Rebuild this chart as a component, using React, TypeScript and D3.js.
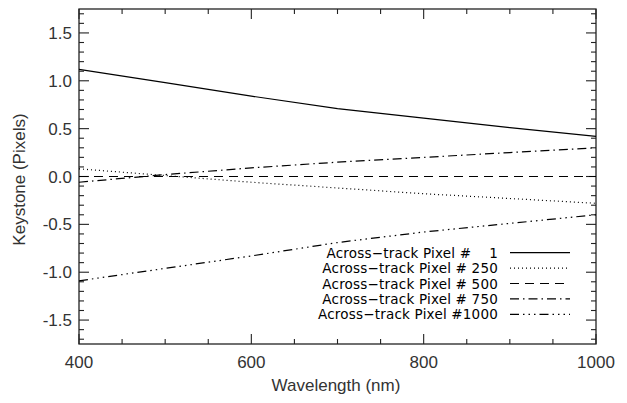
import React from "react";
import * as d3 from "d3";

const wavelengths = [400, 500, 600, 700, 800, 900, 1000];
const pixel1 = [1.12, 0.98, 0.84, 0.71, 0.61, 0.51, 0.42];
const pixel250 = [0.08, 0.01, -0.06, -0.12, -0.18, -0.23, -0.28];
const pixel500 = [0.0, 0.0, 0.0, 0.0, 0.0, 0.0, 0.0];
const pixel750 = [-0.06, 0.02, 0.09, 0.15, 0.2, 0.25, 0.3];
const pixel1000 = [-1.09, -0.96, -0.83, -0.69, -0.58, -0.49, -0.4];

const legendLabels = [
  "Across\u2212track Pixel #    1",
  "Across\u2212track Pixel # 250",
  "Across\u2212track Pixel # 500",
  "Across\u2212track Pixel # 750",
  "Across\u2212track Pixel #1000",
];
const dashes = ["none", "1,3", "9,6", "9,4,1.5,4", "9,4,1.5,4,1.5,4,1.5,4"];
const xTicks = [400, 600, 800, 1000];
const yTicks = [-1.5, -1.0, -0.5, 0.0, 0.5, 1.0, 1.5];

export default function App() {
  const W = 627, H = 403;
  const L = 79, R = 596, T = 9, B = 344;
  const x = d3.scaleLinear().domain([400, 1000]).range([L, R]);
  const y = d3.scaleLinear().domain([-1.75, 1.75]).range([B, T]);
  const series = [pixel1, pixel250, pixel500, pixel750, pixel1000];
  const line = d3.line<number>().x((_, i) => x(wavelengths[i])).y((d) => y(d));

  const xMinor = d3.range(400, 1000.1, 50);
  const yMinor = d3.range(-17, 18).map((v) => v / 10);
  const axisColor = "#222";
  const font = "'Liberation Sans', Arial, Helvetica, sans-serif";

  return (
    <svg width={W} height={H} style={{ position: "absolute", left: 0, top: 0, background: "#fff" }}>
      <rect x={0} y={0} width={W} height={H} fill="#fff" />
      <rect x={L} y={T} width={R - L} height={B - T} fill="none" stroke={axisColor} strokeWidth={1.3} />
      {xMinor.map((v) => {
        const major = xTicks.includes(v);
        const len = major ? 10 : 5;
        return (
          <g key={"xt" + v}>
            <line x1={x(v)} x2={x(v)} y1={B} y2={B - len} stroke={axisColor} strokeWidth={1.1} />
            <line x1={x(v)} x2={x(v)} y1={T} y2={T + len} stroke={axisColor} strokeWidth={1.1} />
          </g>
        );
      })}
      {yMinor.map((v) => {
        const major = Math.abs(v * 2 - Math.round(v * 2)) < 1e-6;
        const len = major ? 10 : 5;
        return (
          <g key={"yt" + v}>
            <line x1={L} x2={L + len} y1={y(v)} y2={y(v)} stroke={axisColor} strokeWidth={1.1} />
            <line x1={R} x2={R - len} y1={y(v)} y2={y(v)} stroke={axisColor} strokeWidth={1.1} />
          </g>
        );
      })}
      {xTicks.map((v) => (
        <text key={"xl" + v} x={x(v)} y={368} textAnchor="middle" fontFamily={font} fontSize={17} fill="#333">
          {String(v)}
        </text>
      ))}
      {yTicks.map((v) => (
        <text key={"yl" + v} x={72} y={y(v) + 6} textAnchor="end" fontFamily={font} fontSize={17} fill="#333">
          {v.toFixed(1)}
        </text>
      ))}
      <text x={336} y={391} textAnchor="middle" fontFamily={font} fontSize={17} fill="#333">
        Wavelength (nm)
      </text>
      <text
        transform={`translate(25,${(T + B) / 2 + 3}) rotate(-90)`}
        textAnchor="middle"
        fontFamily={font}
        fontSize={17}
        fill="#333"
      >
        Keystone (Pixels)
      </text>
      {series.map((s, i) => (
        <path key={"s" + i} d={line(s) || ""} fill="none" stroke="#000" strokeWidth={1.2} strokeDasharray={dashes[i]} />
      ))}
      {legendLabels.map((lab, i) => {
        const yy = 252.7 + i * 15.4;
        return (
          <g key={"lg" + i}>
            <text
              x={498}
              y={yy + 5}
              textAnchor="end"
              fontFamily="'DejaVu Sans', sans-serif"
              fontSize={13.5}
              letterSpacing={0.2}
              fill="#000"
              style={{ whiteSpace: "pre" }}
            >
              {lab}
            </text>
            <line x1={510} x2={570} y1={yy} y2={yy} stroke="#000" strokeWidth={1.2} strokeDasharray={dashes[i]} />
          </g>
        );
      })}
    </svg>
  );
}
